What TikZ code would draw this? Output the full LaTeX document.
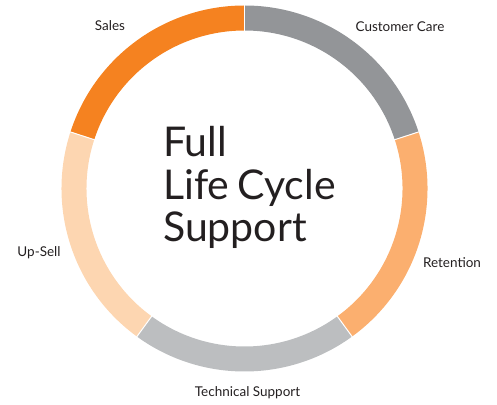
\documentclass[tikz,border=0pt]{standalone}
\usepackage{fontspec}
\setmainfont{Lato}
\usetikzlibrary{calc}
\definecolor{salesc}{HTML}{F58220}
\definecolor{carec}{HTML}{939598}
\definecolor{retc}{HTML}{FBAF6F}
\definecolor{techc}{HTML}{BCBEC0}
\definecolor{upc}{HTML}{FDD6B1}
\definecolor{txt}{HTML}{231F20}
\begin{document}
\begin{tikzpicture}[x=1pt,y=1pt,
  lbl/.style={font=\fontsize{13.5}{15}\selectfont, text=txt, inner sep=0pt},
  ttl/.style={font=\fontsize{41}{41}\selectfont, text=txt, inner sep=0pt, anchor=base west}]
\useasboundingbox (0,0) rectangle (497,404);
\coordinate (C) at (244.5,215.5);
\def\Ro{183}\def\Ri{158}
\foreach \a/\b/\c in {90/162/salesc, 18/90/carec, -54/18/retc, -126/-54/techc, 162/234/upc}{
  \fill[\c] ($(C)+(\a:\Ro)$) arc[start angle=\a, end angle=\b, radius=\Ro]
    -- ($(C)+(\b:\Ri)$) arc[start angle=\b, end angle=\a, radius=\Ri] -- cycle;
}
\foreach \a in {90,162,234,306,18}{
  \draw[white, line width=1pt] ($(C)+(\a:\Ri-1)$) -- ($(C)+(\a:\Ro+1)$);
}
\node[lbl] (sales) at (110,378) {Sales};
\node[lbl] (care) at (400,377) {Customer Care};
\node[lbl] (ret) at (452,141) {Retention};
\node[lbl] (up) at (39,151) {Up-Sell};
\node[lbl] (tech) at (247.5,11) {Technical Support};
\node[ttl] (t1) at (163,247) {Full};
\node[ttl] (t2) at (163,204) {Life\hspace{0.2em}Cycle};
\node[ttl] (t3) at (163,162) {Support};
\end{tikzpicture}
\end{document}
